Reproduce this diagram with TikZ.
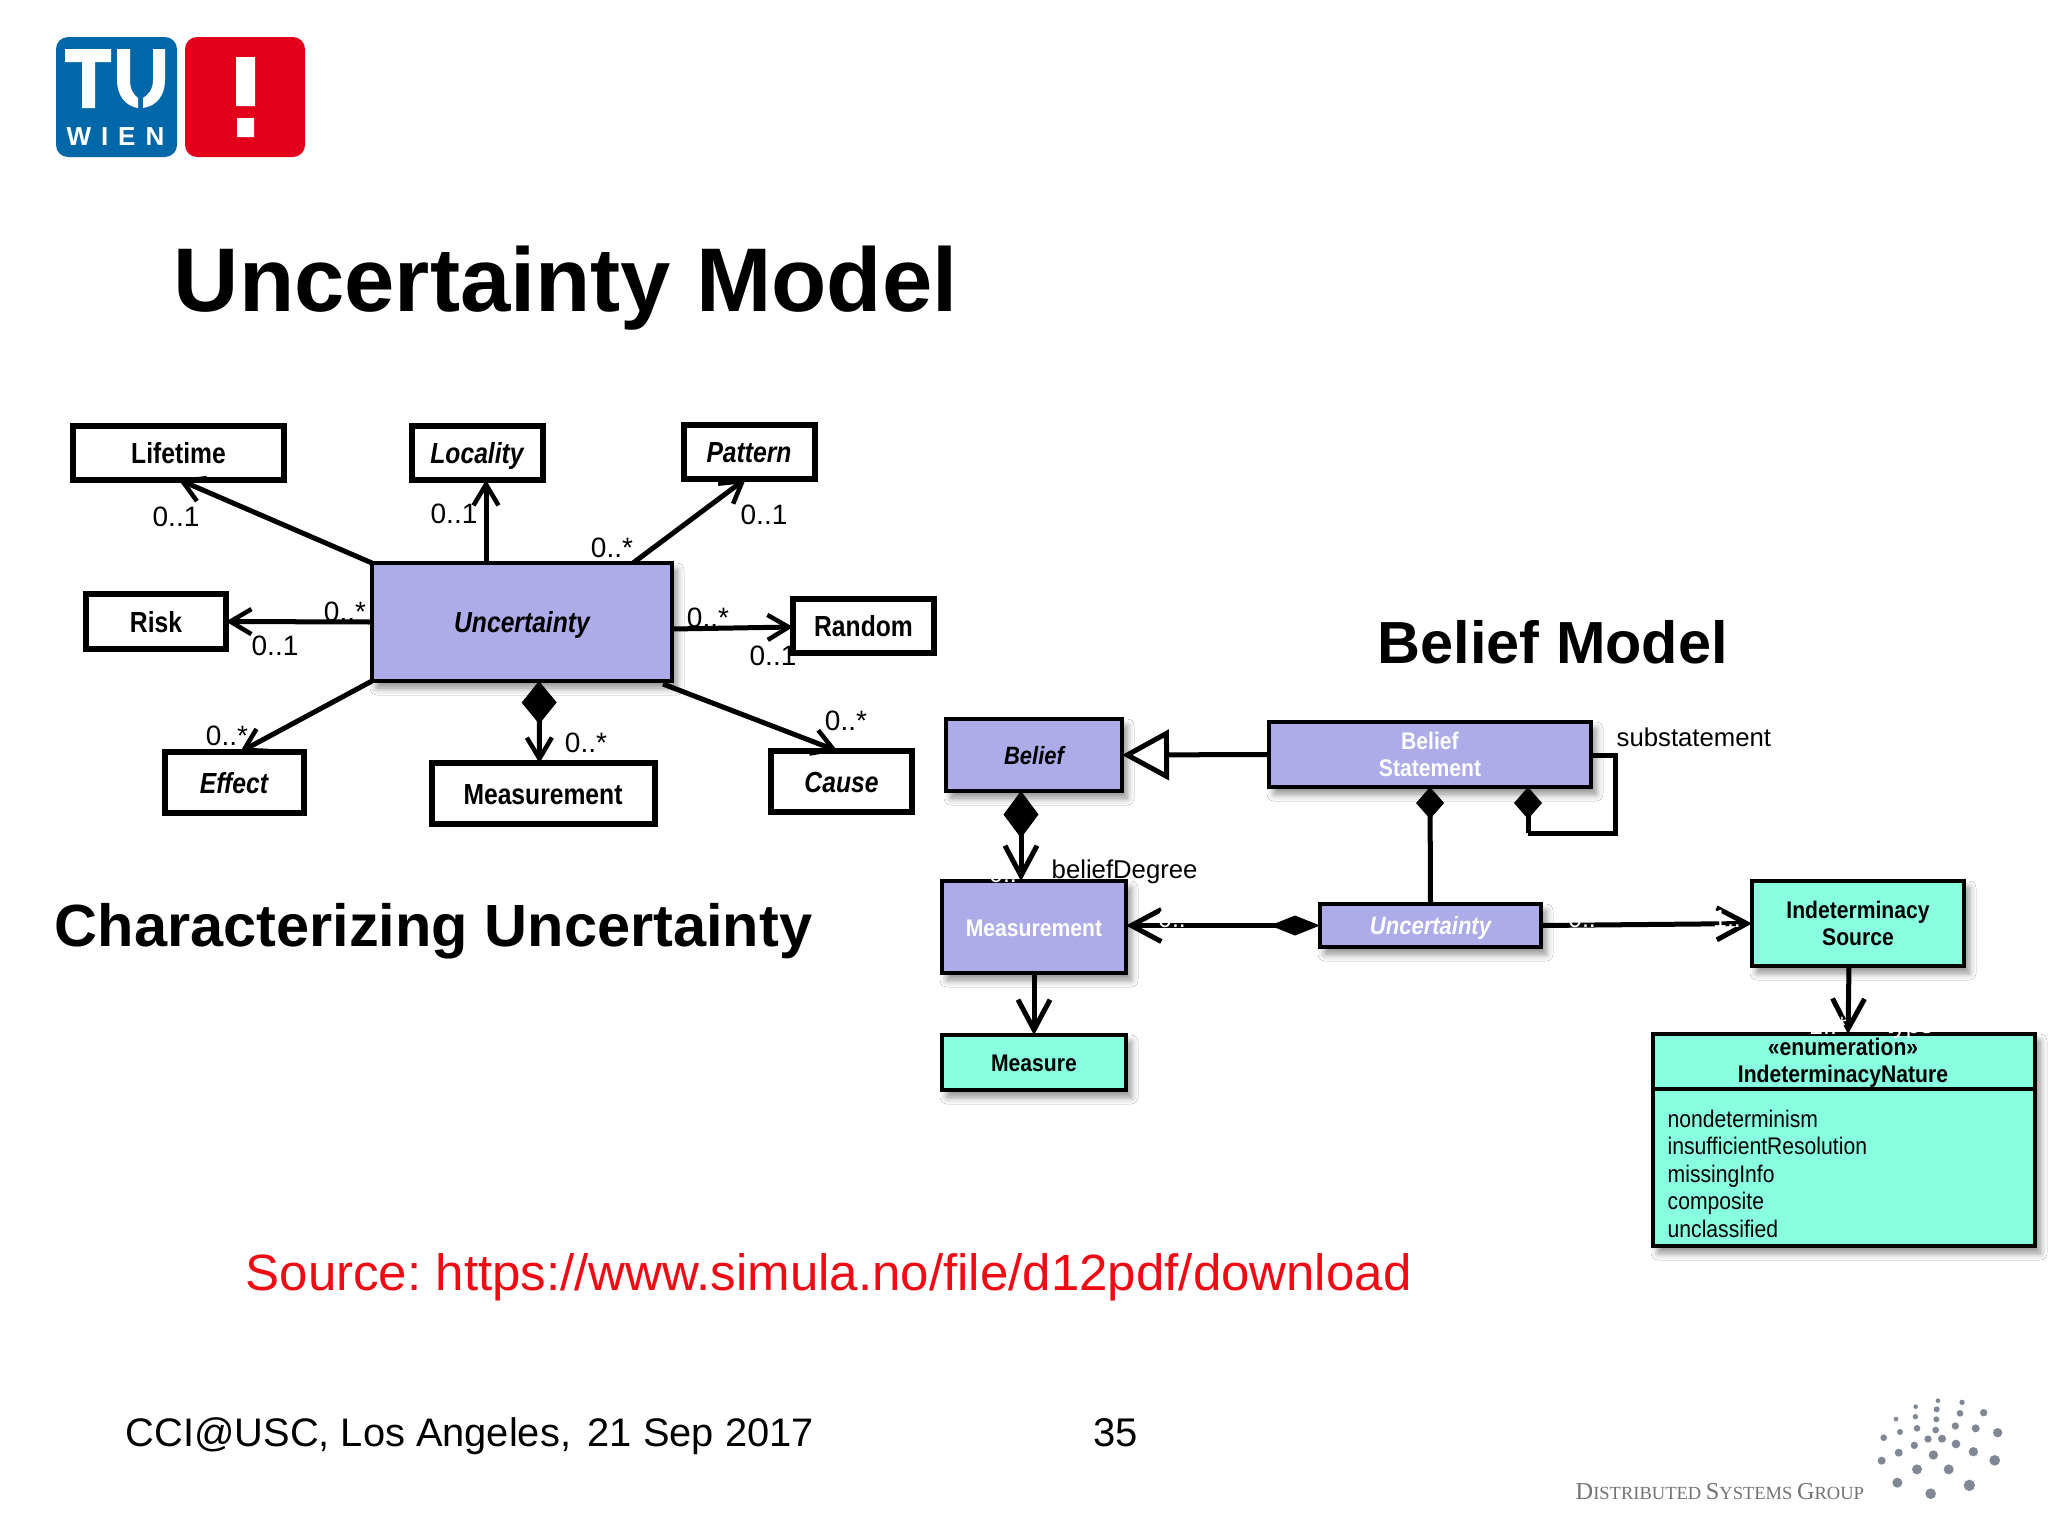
\documentclass[tikz,border=0pt]{standalone}
\usepackage{fontspec}
\usetikzlibrary{arrows.meta,calc,shadows,shadows.blur}
\setmainfont{Liberation Sans}
\newfontfamily\nf[FakeStretch=0.88]{Liberation Sans}
\newfontfamily\nfl[FakeStretch=0.85]{Liberation Sans}
\newfontfamily\wienf[LetterSpace=38]{Liberation Sans}
\newfontfamily\dsg{Liberation Serif}
\newcommand{\fs}[1]{\fontsize{\fpeval{#1*0.28453}pt}{\fpeval{#1*0.28453*1.15}pt}\selectfont}
\AtBeginDocument{\frenchspacing}
\definecolor{lav}{HTML}{ADABE8}
\definecolor{aqua}{HTML}{88FFDF}
\definecolor{tublue}{HTML}{0067A8}
\definecolor{tured}{HTML}{E2001A}
\definecolor{dotgray}{HTML}{7F8894}
\tikzset{
  sz/.style 2 args={minimum width=#1*0.01cm,minimum height=#2*0.01cm,inner sep=0pt,outer sep=0pt},
  umlbox/.style={draw=black,line width=0.06cm,fill=white,font=\nfl\fs{29}\bfseries,text height=0.21cm,text depth=0pt},
  itbox/.style={umlbox,font=\nfl\fs{29}\bfseries\itshape},
  softsh/.style={blur shadow={shadow xshift=0.05cm,shadow yshift=-0.07cm,shadow blur radius=0.07cm,shadow blur steps=6,shadow opacity=45}},
  bbox/.style={draw=black,line width=0.045cm,fill=lav,font=\nf\fs{24}\bfseries,softsh},
  tbox/.style={bbox,fill=aqua},
  mult/.style={anchor=base,font=\fs{28}},
  hd/.style={anchor=base west,font=\bfseries},
  ghost/.style={anchor=base,text=white,font=\fs{25},inner sep=0pt},
  conn/.style={draw=black,line width=0.05cm},
  bconn/.style={draw=black,line width=0.05cm},
  openA/.tip={Straight Barb[length=0.21cm,width=0.25cm,line width=0.045cm]},
  openB/.tip={Straight Barb[length=0.3cm,width=0.32cm,line width=0.05cm]},
}
\begin{document}
\begin{tikzpicture}[x=0.01cm,y=-0.01cm]
\useasboundingbox (0,0) rectangle (2048,1536);
\fill[white] (0,0) rectangle (2048,1536);

% TU logo
\node[fill=tublue,rounded corners=0.12cm,sz={121}{120}] (tu) at (116.5,97) {};
\node[fill=tured,rounded corners=0.12cm,sz={120}{120}] (bang) at (245,97) {};
\fill[white] (65,49) rectangle (111,62) (82,62) rectangle (95,108);
\fill[white] (117,49) -- (130,49) -- (130,80) .. controls (130,90) and (134,95) .. (138,98) -- (138,108) .. controls (125,106) and (117,95) .. (117,80) -- cycle;
\fill[white] (165,49) -- (153,49) -- (153,80) .. controls (153,90) and (148,95) .. (143,98) -- (143,108) .. controls (157,106) and (165,95) .. (165,80) -- cycle;
\fill[white] (236,57) rectangle (255,106) (237,118) rectangle (254,137);
\node[anchor=base west,inner sep=0pt,text=white,font=\wienf\fs{26}\bfseries] (wien) at (66,145) {WIEN};

% Titles
\node[hd,inner sep=0pt,font=\fs{90.4}\bfseries] (t1) at (173,311) {Uncertainty Model};
\node[hd,inner sep=0pt,font=\fs{59.4}\bfseries] (t2) at (1377,663) {Belief Model};
\node[hd,inner sep=0pt,font=\fs{59.5}\bfseries] (t3) at (54,946.5) {Characterizing Uncertainty};
\node[anchor=base west,inner sep=0pt,text={rgb,255:red,240;green,10;blue,20},font=\fs{51}] (src) at (245,1290) {Source: https://www.simula.no/file/d12pdf/download};
\node[anchor=base west,inner sep=0pt,font=\fs{39.8}] (foot) at (125,1446) {CCI@USC, Los Angeles,\hspace{0.42em}21 Sep 2017};
\node[anchor=base west,inner sep=0pt,font=\fs{40}] (page) at (1093,1446) {35};

% left multiplicities under boxes
\node[mult] (m1) at (176,526) {0..1};
\node[mult] (m2) at (454,523) {0..1};
\node[mult] (m3) at (612,557) {0..*};
\node[mult] (m4) at (764,524) {0..1};
\node[mult] (m5) at (345,621) {0..*};
\node[mult] (m6) at (275,655) {0..1};
\node[mult] (m7) at (708,627) {0..*};
\node[mult] (m8) at (773,665) {0..1};
\node[mult] (m9) at (227,745) {0..*};
\node[mult] (m10) at (586,752) {0..*};
\node[mult] (m11) at (846,730) {0..*};

% Left diagram nodes
\node[umlbox,sz={211}{54}] (life) at (178.5,452.5) {Lifetime};
\node[itbox,sz={131}{54}] (loc) at (477,453) {Locality};
\node[itbox,sz={131}{54}] (pat) at (749,451.5) {Pattern};
\node[umlbox,sz={140}{55}] (risk) at (156,621.5) {Risk};
\node[umlbox,sz={141}{54}] (rand) at (863.5,626) {Random};
\node[itbox,sz={139}{61}] (eff) at (234,782.5) {Effect};
\node[umlbox,sz={223}{61}] (meas) at (543,793.5) {Measurement};
\node[itbox,sz={141}{61}] (cause) at (841.5,781.5) {Cause};
\node[bbox,sz={300}{118},font=\nfl\fs{29}\bfseries\itshape,text height=0.21cm,text depth=0pt] (unc) at (522,622) {Uncertainty};

\draw[conn,-{openA}] (unc.north west) -- (life.south);
\draw[conn,-{openA}] ($(unc.north)+(-36,0)$) -- ($(loc.south)+(9,0)$);
\draw[conn,-{openA}] ($(unc.north)+(111,0)$) -- ($(pat.south)+(-3,0)$);
\draw[conn,-{openA}] (unc.west) -- (risk.east);
\draw[conn,-{openA}] ($(unc.east)+(0,7)$) -- ($(rand.west)+(0,1)$);
\draw[conn,-{openA}] (unc.south west) -- ($(eff.north)+(6,0)$);
\draw[conn,{Diamond[length=0.43cm,width=0.35cm]}-{openA}] ($(unc.south)+(17,0)$) -- ($(meas.north)+(-3.5,0)$);
\draw[conn,-{openA}] ($(unc.south east)+(-9,3)$) -- ($(cause.north)+(-4,0)$);

% Belief diagram nodes
\node[bbox,sz={176}{72},font=\nf\fs{25}\bfseries\itshape,text height=0.18cm,text depth=0pt] (bel) at (1034,755) {Belief};
\node[bbox,sz={322}{65},text=white,align=center] (bst) at (1430,754.5) {Belief\\Statement};
\node[bbox,sz={184}{92},text=white,text height=0.18cm,text depth=0pt] (bm) at (1034,927) {Measurement};
\node[tbox,sz={184}{55},text height=0.18cm,text depth=0pt] (msr) at (1034,1062.5) {Measure};
\node[bbox,sz={221}{43},text=white,font=\nf\fs{25}\bfseries\itshape,text height=0.18cm,text depth=0pt] (bu) at (1430.5,925.5) {Uncertainty};
\node[tbox,sz={212}{85},align=center] (ind) at (1858,923.5) {Indeterminacy\\Source};
\node[tbox,sz={382}{212}] (en) at (1844,1140) {};
\coordinate (selfa) at (1615,755);
\coordinate (selfb) at (1615,833);
\coordinate (selfc) at (1528,833);

\draw[bconn,-{Triangle[open,length=0.47cm,width=0.5cm,fill=white]}] (bst.west) -- (bel.east);
\draw[bconn,{Diamond[length=0.47cm,width=0.35cm]}-{openB}] ($(bel.south)+(-13,0)$) -- ($(bm.north)+(-13,0)$);
\draw[bconn,{Diamond[length=0.32cm,width=0.28cm]}-] (bst.south) -- (bu.north);
\draw[bconn,line join=miter] (bst.east |- selfa) -- (selfa) -- (selfb) -- (selfc);
\draw[bconn,{Diamond[length=0.32cm,width=0.28cm]}-] ($(bst.south)+(98,0)$) -- (selfc);
\draw[bconn,{Diamond[length=0.5cm,width=0.2cm]}-{openB}] (bu.west) -- (bm.east |- bu.west);
\draw[bconn,-{openB}] (bu.east) -- ($(ind.west)+(0,0)$);
\draw[bconn,-{openB}] (bm.south) -- (msr.north);
\draw[bconn,-{openB}] ($(ind.south)+(-9,0)$) -- ($(en.north)+(4,0)$);

% Enumeration box content
\draw[line width=0.045cm] (en.west |- 0,1089) coordinate (d1) -- (en.east |- 0,1089) coordinate (d2);
\node[anchor=base,inner sep=0pt,font=\nf\fs{24}\bfseries] (e1) at (1843,1055) {«enumeration»};
\node[anchor=base,inner sep=0pt,font=\nf\fs{24}\bfseries] (e2) at (1843,1082) {IndeterminacyNature};
\node[anchor=base west,inner sep=0pt,font=\nf\fs{24}] (l1) at (1667,1127) {nondeterminism};
\node[anchor=base west,inner sep=0pt,font=\nf\fs{24}] (l2) at (1667,1154) {insufficientResolution};
\node[anchor=base west,inner sep=0pt,font=\nf\fs{24}] (l3) at (1667,1182) {missingInfo};
\node[anchor=base west,inner sep=0pt,font=\nf\fs{24}] (l4) at (1667,1209) {composite};
\node[anchor=base west,inner sep=0pt,font=\nf\fs{24}] (l5) at (1667,1237) {unclassified};

% Free labels
\node[anchor=base west,inner sep=0pt,font=\fs{25.7}] (deg) at (1051,878) {beliefDegree};
\node[anchor=base west,inner sep=0pt,font=\fs{25.7}] (sub) at (1616,746) {substatement};

% White multiplicity fragments left on top of the lines
\node[ghost] (g1) at (1003,882) {0..};
\node[ghost] (g2) at (1172,927) {0..};
\node[ghost] (g3) at (1582,927) {0..};
\node[ghost] (g4) at (1727,927) {1..};
\node[ghost] (g5) at (1828,1034) {1..*};
\node[ghost] (g6) at (1910,1033) {type};

% Distributed Systems Group logo
\node[anchor=base west,inner sep=0pt,text=black!55,font=\dsg] (dsgt) at (1575,1499) {\fs{24.3}D\fs{18.5}ISTRIBUTED \fs{24.3}S\fs{18.5}YSTEMS \fs{24.3}G\fs{18.5}ROUP};
\foreach \a/\b/\r in {1127/80/7,1194/62/7,1266/67/8,1126/110/8,1190/88/9,1260/100/10,1331/98/11,1068/117/7,1189/118/9,1080/156/9,1131/145/10,1187/150/10,1246/138/11,1307/145/12,1373/158/14,1031/173/10,1164/177/11,1206/176/12,1123/196/11,1248/192/13,1076/218/12,1180/225/14,1300/215/14,1364/241/16,1025/242/12,1131/268/15,1226/268/15,1072/308/15,1172/341/16,1288/316/17}
  \fill[dotgray] ({1540+\a/3},{1380+\b/3}) circle ({\r/3});
\end{tikzpicture}
\end{document}
